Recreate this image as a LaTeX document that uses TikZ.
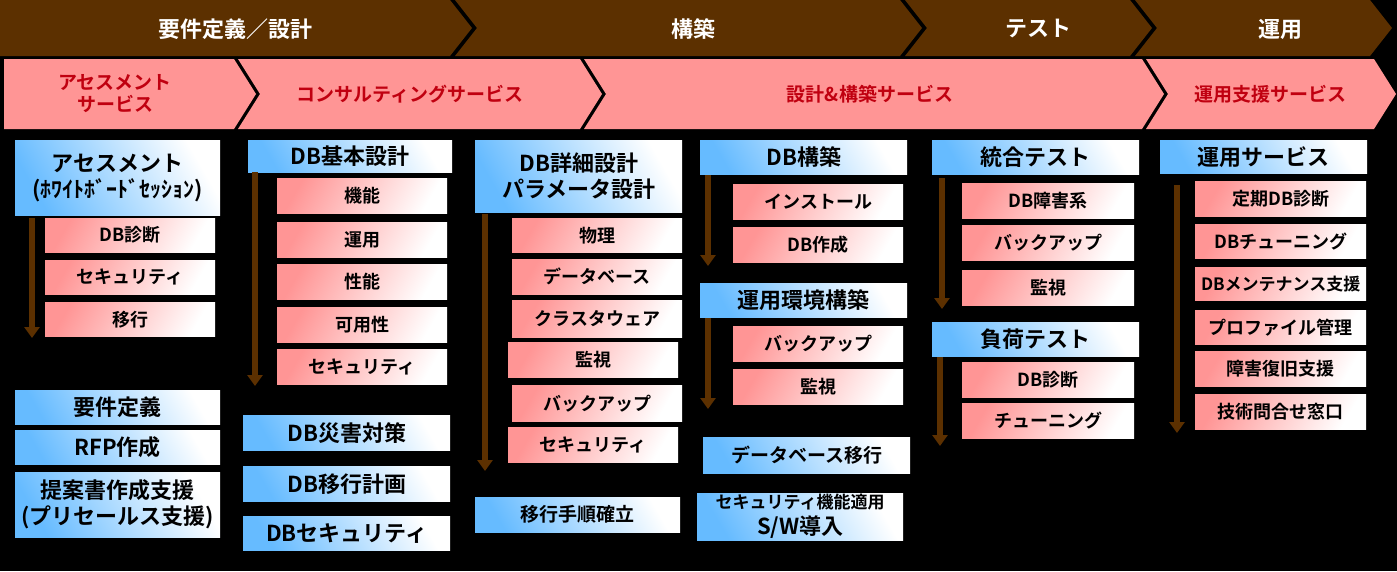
\documentclass[tikz,border=0pt]{standalone}
\usepackage{fontspec}
\setmainfont{Noto Sans CJK JP}[BoldFont={* Bold}]
\usetikzlibrary{arrows.meta,positioning}
\definecolor{brn}{HTML}{5C3000}
\definecolor{pnk}{HTML}{FF9595}
\definecolor{drd}{HTML}{C00010}
\definecolor{lblue}{HTML}{66BBFF}
\tikzset{
  hdr/.style={anchor=north west,inner sep=0,align=center,font=\bfseries\fontsize{22}{26}\selectfont,
    left color=lblue,right color=white,shading angle=120},
  item/.style={anchor=north west,inner sep=0,align=center,font=\bfseries\fontsize{18}{21}\selectfont,
    left color=pnk,right color=white,shading angle=60},
  flow/.style={line width=6pt,brn,-{Triangle[width=15pt,length=11pt]}},
  phase/.style={font=\bfseries\fontsize{22}{24}\selectfont,text=white},
  svc/.style={font=\bfseries\fontsize{19}{22}\selectfont,text=drd,align=center}
}
% x1 x2 y1 y2 colour notch
\newcommand{\chev}[6]{\fill[#5] (#1,#3)--(#2,#3)--(#2+22,{(#3+#4)/2})--(#2,#4)--(#1,#4)--(#1+#6,{(#3+#4)/2})--cycle;}
\newcommand{\bx}[6]{\node[#1,minimum width=#4,minimum height=#5] (#2) at (#3) {#6};}
\begin{document}
\begin{tikzpicture}[x=1pt,y=-1pt]
\fill[black] (0,0) rectangle (1397,571);
\useasboundingbox (0,0) rectangle (1397,571);
% phases
\chev{0}{450}{0}{56}{brn}{0}
\chev{455}{900}{0}{56}{brn}{22}
\chev{905}{1130}{0}{56}{brn}{22}
\chev{1135}{1370}{0}{56}{brn}{22}
\node[phase] (p1) at (235,29) {要件定義／設計};
\node[phase] (p2) at (693,29) {構築};
\node[phase] (p3) at (1038,29) {テスト};
\node[phase] (p4) at (1280,29) {運用};
% services
\chev{4}{234}{59}{129}{pnk}{0}
\chev{238}{580}{59}{129}{pnk}{22}
\chev{584}{1142}{59}{129}{pnk}{22}
\chev{1146}{1374}{59}{129}{pnk}{22}
\node[svc] (s1) at (115,94) {アセスメント\\サービス};
\node[svc] (s2) at (410,94) {コンサルティングサービス};
\node[svc] (s3) at (870,94) {設計\&構築サービス};
\node[svc] (s4) at (1270,94) {運用支援サービス};
% column 1
\bx{hdr}{a0}{15,140}{205pt}{75pt}{アセスメント\\(ﾎﾜｲﾄﾎﾞｰﾄﾞｾｯｼｮﾝ)}
\bx{item}{a1}{45,218}{170pt}{34pt}{DB診断}
\bx{item}{a2}{45,260}{170pt}{34pt}{セキュリティ}
\bx{item}{a3}{45,302}{170pt}{34pt}{移行}
\coordinate (a9) at (32,338);
\draw[flow] (32,218) -- (a9);
\bx{hdr}{a4}{15,390}{205pt}{34pt}{要件定義}
\bx{hdr}{a5}{15,430}{205pt}{34pt}{RFP作成}
\bx{hdr}{a6}{15,472}{205pt}{65pt}{提案書作成支援\\(プリセールス支援)}
% column 2
\bx{hdr}{b0}{248,140}{204pt}{32pt}{DB基本設計}
\bx{item}{b1}{277,178}{170pt}{35pt}{機能}
\bx{item}{b2}{277,222}{170pt}{35pt}{運用}
\bx{item}{b3}{277,264}{170pt}{35pt}{性能}
\bx{item}{b4}{277,307}{170pt}{35pt}{可用性}
\bx{item}{b5}{277,349}{170pt}{35pt}{セキュリティ}
\coordinate (b9) at (255,386);
\draw[flow] (255,172) -- (b9);
\bx{hdr}{b6}{243,415}{207pt}{35pt}{DB災害対策}
\bx{hdr}{b7}{243,466}{207pt}{35pt}{DB移行計画}
\bx{hdr}{b8}{243,516}{207pt}{34pt}{DBセキュリティ}
% column 3
\bx{hdr}{c0}{475,140}{207pt}{72pt}{DB詳細設計\\パラメータ設計}
\bx{item}{c1}{512,218}{170pt}{34pt}{物理}
\bx{item}{c2}{512,259}{170pt}{35pt}{データベース}
\bx{item}{c3}{512,300}{170pt}{37pt}{クラスタウェア}
\bx{item}{c4}{508,342}{170pt}{35pt}{監視}
\bx{item}{c5}{512,385}{170pt}{36pt}{バックアップ}
\bx{item}{c6}{508,427}{170pt}{35pt}{セキュリティ}
\coordinate (c9) at (485,471);
\draw[flow] (485,214) -- (c9);
\bx{hdr}{c7}{475,497}{205pt}{35pt}{\fontsize{19}{22}\selectfont 移行手順確立}
% column 4
\bx{hdr}{d0}{700,140}{207pt}{34pt}{DB構築}
\bx{item}{d1}{733,184}{170pt}{35pt}{インストール}
\bx{item}{d2}{733,227}{170pt}{35pt}{DB作成}
\coordinate (d9) at (708,266);
\draw[flow] (708,175) -- (d9);
\bx{hdr}{d3}{700,283}{207pt}{34pt}{運用環境構築}
\bx{item}{d4}{733,326}{170pt}{35pt}{バックアップ}
\bx{item}{d5}{733,369}{170pt}{35pt}{監視}
\coordinate (d8) at (708,409);
\draw[flow] (708,318) -- (d8);
\bx{hdr}{d6}{703,437}{207pt}{36pt}{\fontsize{19}{22}\selectfont データベース移行}
\bx{hdr}{d7}{697,493}{206pt}{47pt}{\fontsize{17}{20}\selectfont セキュリティ機能適用\\S/W導入}
% column 5
\bx{hdr}{e0}{932,140}{207pt}{34pt}{統合テスト}
\bx{item}{e1}{962,183}{172pt}{35pt}{DB障害系}
\bx{item}{e2}{962,225}{172pt}{35pt}{バックアップ}
\bx{item}{e3}{962,270}{172pt}{35pt}{監視}
\coordinate (e9) at (942,309);
\draw[flow] (942,178) -- (e9);
\bx{hdr}{e4}{932,322}{207pt}{34pt}{負荷テスト}
\bx{item}{e5}{962,362}{172pt}{35pt}{DB診断}
\bx{item}{e6}{962,403}{172pt}{35pt}{チューニング}
\coordinate (e8) at (940,446);
\draw[flow] (940,357) -- (e8);
% column 6
\bx{hdr}{f0}{1160,140}{207pt}{33pt}{運用サービス}
\bx{item}{f1}{1195,181}{171pt}{35pt}{定期DB診断}
\bx{item}{f2}{1195,224}{171pt}{34pt}{DBチューニング}
\bx{item}{f3}{1195,267}{171pt}{33pt}{\fontsize{17}{20}\selectfont DBメンテナンス支援}
\bx{item}{f4}{1195,310}{171pt}{34pt}{プロファイル管理}
\bx{item}{f5}{1195,351}{171pt}{35pt}{障害復旧支援}
\bx{item}{f6}{1195,394}{171pt}{35pt}{技術問合せ窓口}
\coordinate (f9) at (1177,433);
\draw[flow] (1177,185) -- (f9);
\end{tikzpicture}
\end{document}
